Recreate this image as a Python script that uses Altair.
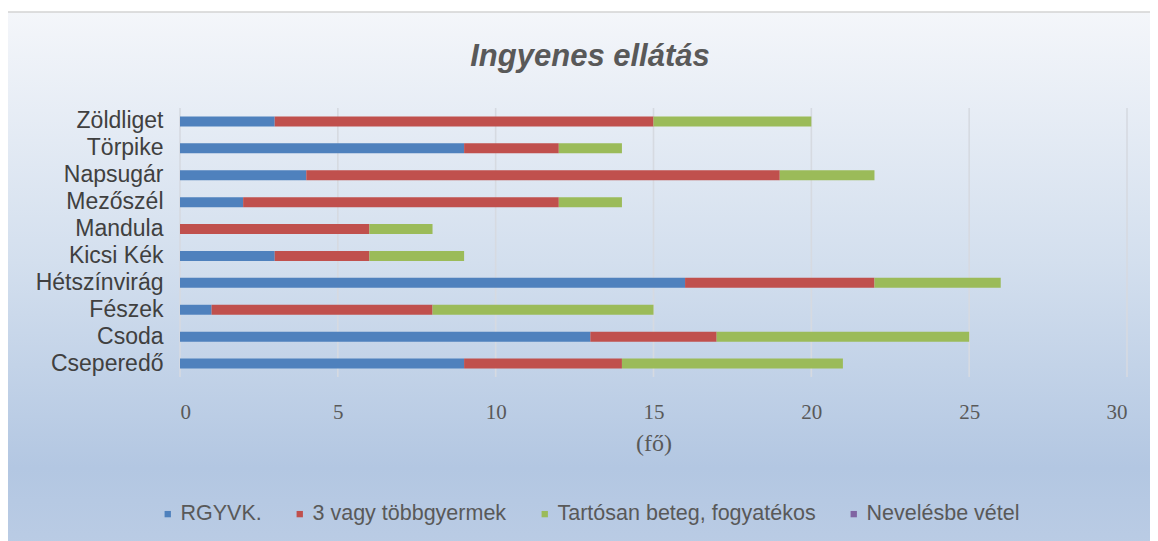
import altair as alt
import pandas as pd

categories = ["Zöldliget", "Törpike", "Napsugár", "Mezőszél", "Mandula",
              "Kicsi Kék", "Hétszínvirág", "Fészek", "Csoda", "Cseperedő"]
series = ["RGYVK.", "3 vagy többgyermek", "Tartósan beteg, fogyatékos", "Nevelésbe vétel"]
rgyvk = [3, 9, 4, 2, 0, 3, 16, 1, 13, 9]
harom = [12, 3, 15, 10, 6, 3, 6, 7, 4, 5]
tartosan = [5, 2, 3, 2, 2, 3, 4, 7, 8, 7]
neveles = [0, 0, 0, 0, 0, 0, 0, 0, 0, 0]
colors = ["#4f81bd", "#c0504d", "#9bbb59", "#8064a2"]
x_ticks = [0, 5, 10, 15, 20, 25, 30]
title_text = "Ingyenes ellátás"

rows = []
for si, (s, vals) in enumerate(zip(series, [rgyvk, harom, tartosan, neveles])):
    for c, v in zip(categories, vals):
        rows.append({"ovoda": c, "sorozat": s, "ertek": v, "rend": si})
df = pd.DataFrame(rows)
grid_df = pd.DataFrame({"t": x_ticks})

W, H = 947, 269

bg = alt.Chart(pd.DataFrame({"a": [0]})).mark_rect(
    fill=alt.Gradient(
        gradient="linear", x1=0, x2=0, y1=0, y2=1,
        stops=[alt.GradientStop(offset=0, color="#f4f6fa"),
               alt.GradientStop(offset=0.45, color="#d3dfee"),
               alt.GradientStop(offset=0.82, color="#b3c7e2"),
               alt.GradientStop(offset=1, color="#bccde5")]),
    stroke="#d4d4d4", strokeWidth=1.5,
).encode(x=alt.value(-173), x2=alt.value(1000), y=alt.value(-96), y2=alt.value(460))

title = alt.Chart(pd.DataFrame({"t": [title_text]})).mark_text(
    font="Liberation Sans", fontSize=31, fontStyle="italic", fontWeight="bold",
    color="#595959", align="center", baseline="alphabetic",
).encode(text="t:N", x=alt.value(410), y=alt.value(-42))

grid = alt.Chart(grid_df).mark_rule(color="#d6dae1", strokeWidth=1.6).encode(
    x=alt.X("t:Q", scale=alt.Scale(domain=[0, 30], nice=False))
)

bars = alt.Chart(df).mark_bar().encode(
    y=alt.Y("ovoda:N", sort=categories,
            scale=alt.Scale(paddingInner=0.63, paddingOuter=0.315),
            axis=alt.Axis(title=None, domain=False, ticks=False, labelFont="Liberation Sans",
                          labelFontSize=23, labelColor="#404040", labelPadding=17, zindex=1)),
    x=alt.X("ertek:Q", stack="zero", scale=alt.Scale(domain=[0, 30], nice=False),
            axis=alt.Axis(values=x_ticks, title="(fő)", grid=False, domain=False, ticks=False,
                          labelFont="Liberation Serif", labelFontSize=21, labelColor="#595959",
                          labelPadding=24, titleFont="Liberation Serif", titleFontSize=24,
                          titleFontWeight="normal", titleColor="#595959", titlePadding=9,
                          zindex=1)),
    color=alt.Color("sorozat:N", sort=series,
                    scale=alt.Scale(domain=series, range=colors),
                    legend=alt.Legend(title=None, orient="none", legendX=-23, legendY=395,
                                      direction="horizontal", columns=4, symbolType="square",
                                      symbolSize=40, symbolStrokeWidth=0, labelFont="Liberation Sans",
                                      labelFontSize=21.5, labelColor="#595959", labelOffset=2,
                                      labelLimit=500, columnPadding=27, zindex=1)),
    order=alt.Order("rend:Q"),
)

chart = alt.layer(bg, grid, bars, title).properties(
    width=W, height=H,
    autosize=alt.AutoSizeParams(type="none"),
    padding={"left": 172, "top": 100, "right": 23, "bottom": 165},
).configure_view(stroke=None)

chart.save("out.html", embed_options={"renderer": "svg", "actions": False})
